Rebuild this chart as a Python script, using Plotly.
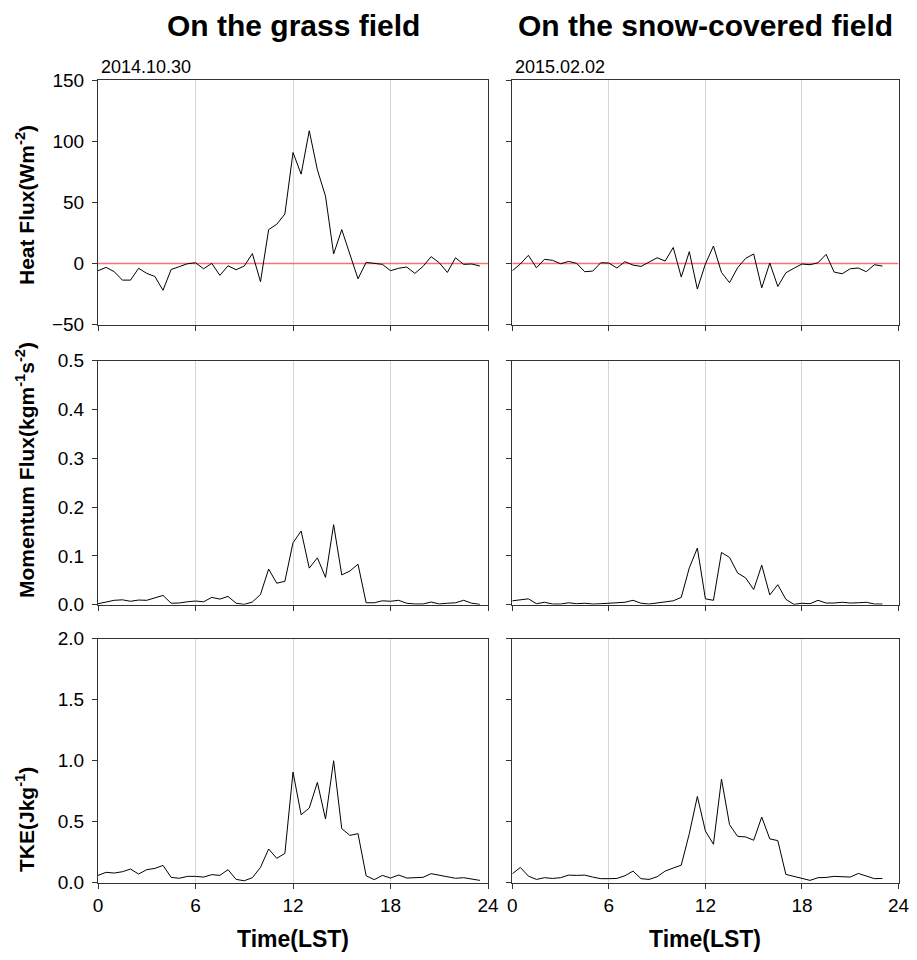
import plotly.graph_objects as go
from plotly.subplots import make_subplots

# ---------------- data (half-hourly, LST) ----------------
time_grass = [i * 0.5 for i in range(48)]   # 0 .. 23.5
time_snow = [i * 0.5 for i in range(47)]    # 0 .. 23

heat_grass = [-6, -3.3, -6.8, -13.7, -13.7, -4, -8.2, -10.7, -22, -5, -2.7, -0.3,
              0.5, -4.4, 0, -9.8, -2, -5.2, -2.2, 8, -15, 27.6, 32, 40.4,
              90.7, 73, 108.5, 76.5, 55, 7.7, 27.6, 8, -12.6, 0.8, 0, -0.8,
              -6, -4, -3, -8.2, -2.5, 5.5, 0.5, -7.4, 4.6, -0.8, -0.5, -2.2]
heat_snow = [-6, -0.5, 6.6, -3.6, 3.3, 2.5, -0.3, 1.6, 0, -6.8, -6.3, 0.5,
             0.3, -3.8, 1.4, -1.4, -2.5, 1.4, 4.6, 1.9, 13, -11.2, 9.6, -21,
             -0.5, 14.2, -7.4, -15.8, -3.6, 4.1, 7.7, -20, 0.3, -18.9, -7.7, -4,
             -0.5, -1.1, 0.5, 7.4, -7.1, -8.5, -4.4, -3.8, -6.8, -1.1, -2.2]

mom_grass = [0.002, 0.006, 0.009, 0.010, 0.007, 0.0095, 0.009, 0.014, 0.019, 0.003, 0.0035, 0.006,
             0.0075, 0.006, 0.015, 0.0115, 0.017, 0.003, 0.0007, 0.0055, 0.021, 0.073, 0.044, 0.048,
             0.127, 0.151, 0.075, 0.096, 0.056, 0.164, 0.061, 0.069, 0.083, 0.004, 0.004, 0.008,
             0.007, 0.009, 0.003, 0.0015, 0.0015, 0.0055, 0.0015, 0.003, 0.004, 0.009, 0.003, 0.0007]
mom_snow = [0.008, 0.0095, 0.012, 0.002, 0.005, 0.0014, 0.0014, 0.004, 0.002, 0.003, 0.0014, 0.002,
            0.003, 0.003, 0.005, 0.009, 0.003, 0.0014, 0.0034, 0.006, 0.008, 0.015, 0.0755, 0.116,
            0.012, 0.009, 0.107, 0.097, 0.065, 0.055, 0.031, 0.081, 0.020, 0.041, 0.011, 0.0007,
            0.003, 0.002, 0.009, 0.0034, 0.0034, 0.005, 0.0034, 0.004, 0.005, 0.0014, 0.0014]

tke_grass = [0.06, 0.085, 0.079, 0.09, 0.112, 0.071, 0.107, 0.117, 0.142, 0.044, 0.036, 0.052,
             0.052, 0.046, 0.066, 0.06, 0.107, 0.027, 0.016, 0.041, 0.126, 0.276, 0.2, 0.24,
             0.907, 0.557, 0.612, 0.822, 0.522, 1.0, 0.443, 0.388, 0.402, 0.057, 0.025, 0.06,
             0.038, 0.063, 0.038, 0.044, 0.044, 0.074, 0.06, 0.044, 0.036, 0.041, 0.033, 0.019]
tke_snow = [0.073, 0.125, 0.054, 0.027, 0.041, 0.035, 0.041, 0.062, 0.06, 0.062, 0.046, 0.033,
            0.033, 0.035, 0.057, 0.095, 0.033, 0.027, 0.049, 0.095, 0.12, 0.144, 0.402, 0.707,
            0.424, 0.315, 0.85, 0.476, 0.38, 0.375, 0.348, 0.538, 0.359, 0.345, 0.068, 0.052,
            0.035, 0.019, 0.041, 0.043, 0.052, 0.052, 0.046, 0.076, 0.057, 0.033, 0.035]

col_titles = ["On the grass field", "On the snow-covered field"]
dates = ["2014.10.30", "2015.02.02"]
row_titles = ["Heat Flux(Wm<sup>-2</sup>)",
              "Momentum Flux(kgm<sup>-1</sup>s<sup>-2</sup>)",
              "TKE(Jkg<sup>-1</sup>)"]
x_ticks = [0, 6, 12, 18, 24]
y_ranges = [[-50, 150], [0, 0.5], [0, 2.0]]
y_dticks = [50, 0.1, 0.5]
y_formats = ["d", ".1f", ".1f"]
x_title = "Time(LST)"

# ---------------- figure ----------------
# The page body has an 8px margin; keep the figure inside the 917x960 window
# (no scrollbars) and place everything in window pixel coordinates.
OFF = 8
W, H = 917 - 2 * OFF, 960 - 2 * OFF


def xp(X):
    return (X - OFF) / W


def yp(Y):
    return 1 - (Y - OFF) / H


fig = make_subplots(rows=3, cols=2)

series = [[(time_grass, heat_grass), (time_snow, heat_snow)],
          [(time_grass, mom_grass), (time_snow, mom_snow)],
          [(time_grass, tke_grass), (time_snow, tke_snow)]]

# zero reference lines on heat flux panels
for c in (1, 2):
    fig.add_trace(go.Scatter(x=[0, 24], y=[0, 0], mode="lines",
                             line=dict(color="#ff7070", width=1.5),
                             hoverinfo="skip"), row=1, col=c)

for r in range(3):
    for c in range(2):
        xs, ys = series[r][c]
        fig.add_trace(go.Scatter(x=xs, y=ys, mode="lines",
                                 line=dict(color="black", width=1)),
                      row=r + 1, col=c + 1)

xpix = [(98, 488), (512.3, 898.5)]
ypix = [(80, 324.5), (360.7, 604.7), (638.7, 882.7)]
xdom = [[xp(a), xp(b)] for a, b in xpix]
ydom = [[yp(b), yp(t)] for t, b in ypix]

tick_font = dict(family="Liberation Sans, Arial, sans-serif", size=19, color="black")

for r in range(3):
    for c in range(2):
        fig.update_xaxes(row=r + 1, col=c + 1, domain=xdom[c], range=[0, 24],
                         tickvals=x_ticks, ticks="outside", ticklen=5, tickwidth=1,
                         tickcolor="#333", showline=True, linecolor="#333", linewidth=1,
                         mirror=True, showgrid=True, gridcolor="#d6d6d6", gridwidth=1,
                         zeroline=False, showticklabels=(r == 2), tickfont=tick_font,
                         ticklabeloverflow="allow", automargin=False)
        fig.update_yaxes(row=r + 1, col=c + 1, domain=ydom[r], range=y_ranges[r],
                         dtick=y_dticks[r], tick0=y_ranges[r][0], tickformat=y_formats[r],
                         ticks="outside", ticklen=5, tickwidth=1, tickcolor="#333",
                         showline=True, linecolor="#333", linewidth=1, mirror=True,
                         showgrid=False, zeroline=False, showticklabels=(c == 0),
                         tickfont=tick_font, ticklabelstandoff=4, automargin=False)

annotations = []
title_font = dict(family="Liberation Sans, Arial", size=30, color="black")
for c in range(2):
    xc = (xdom[c][0] + xdom[c][1]) / 2
    annotations.append(dict(text="<b>%s</b>" % col_titles[c], x=xc, y=yp(25),
                            xref="paper", yref="paper", showarrow=False,
                            xanchor="center", yanchor="middle", font=title_font))
    annotations.append(dict(text=dates[c], x=xp(xpix[c][0] + 1), y=yp(79),
                            xref="paper", yref="paper", showarrow=False,
                            xanchor="left", yanchor="bottom",
                            font=dict(family="Liberation Sans, Arial", size=18, color="black")))
    annotations.append(dict(text="<b>%s</b>" % x_title, x=xc, y=yp(939),
                            xref="paper", yref="paper", showarrow=False,
                            xanchor="center", yanchor="middle",
                            font=dict(family="Liberation Sans, Arial", size=23, color="black")))
row_label_y = [205, 470, 820]
for r in range(3):
    annotations.append(dict(text="<b>%s</b>" % row_titles[r], x=xp(25), y=yp(row_label_y[r]),
                            xref="paper", yref="paper", showarrow=False, textangle=-90,
                            xanchor="center", yanchor="middle",
                            font=dict(family="Liberation Sans, Arial", size=21, color="black")))

fig.update_layout(width=W, height=H, margin=dict(l=0, r=0, t=0, b=0, autoexpand=False),
                  plot_bgcolor="white", paper_bgcolor="white", showlegend=False,
                  annotations=annotations,
                  font=dict(family="Liberation Sans, Arial", color="black"))

fig.write_html("out.html")
